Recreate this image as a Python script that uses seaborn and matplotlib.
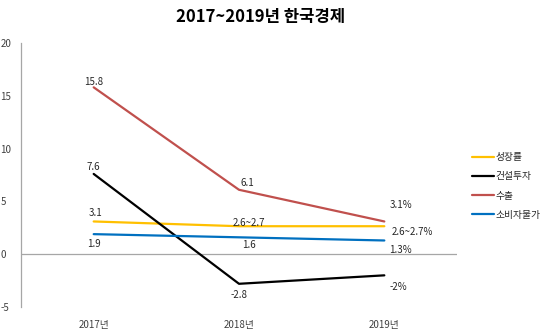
import matplotlib
matplotlib.use("Agg")
import matplotlib.pyplot as plt
import seaborn as sns
import pandas as pd

years = ["2017년", "2018년", "2019년"]
series_names = ["성장률", "건설투자", "수출", "소비자물가"]
growth = [3.1, 2.65, 2.65]
construction = [7.6, -2.8, -2.0]
exports = [15.8, 6.1, 3.1]
prices = [1.9, 1.6, 1.3]

growth_labels = ["3.1", "2.6~2.7", "2.6~2.7%"]
construction_labels = ["7.6", "-2.8", "-2%"]
exports_labels = ["15.8", "6.1", "3.1%"]
prices_labels = ["1.9", "1.6", "1.3%"]

colors = ["#FFC000", "#000000", "#C0504D", "#0070C0"]
y_ticks = [-5, 0, 5, 10, 15, 20]

sns.set_style("white")
plt.rcParams["font.family"] = ["Noto Sans CJK KR", "DejaVu Sans"]
plt.rcParams["axes.unicode_minus"] = False

values = [growth, construction, exports, prices]
labels = [growth_labels, construction_labels, exports_labels, prices_labels]
df = pd.DataFrame({
    "연도": years * len(series_names),
    "x": list(range(len(years))) * len(series_names),
    "계열": [n for n in series_names for _ in years],
    "값": [v for vs in values for v in vs],
})

fig = plt.figure(figsize=(5.49, 3.33), dpi=100)
ax = fig.add_axes([0.0383, 0.078, 0.7941, 0.793])

sns.lineplot(data=df, x="x", y="값", hue="계열", hue_order=series_names,
             palette=colors, linewidth=1.6, ax=ax, legend=True)

ax.set_xlim(-0.5, 2.5)
ax.set_ylim(-5, 20)
ax.set_xticks(range(len(years)))
ax.set_xticklabels(years)
ax.set_yticks(y_ticks)
ax.set_xlabel("")
ax.set_ylabel("")
ax.tick_params(axis="both", length=0, labelsize=7, colors="#404040")
ax.tick_params(axis="x", pad=9)
ax.tick_params(axis="y", pad=4)
for lab in ax.get_yticklabels():
    lab.set_horizontalalignment("left")
    lab.set_x(-0.035)
for side in ["top", "right", "bottom"]:
    ax.spines[side].set_visible(False)
ax.spines["left"].set_color("#A6A6A6")
ax.spines["left"].set_linewidth(0.9)
ax.axhline(0, color="#A6A6A6", linewidth=0.9, zorder=0)

# data label offsets in pixels (dx, dy) per series and year
offsets = [
    [(2, 8), (10, 3), (7, -6)],
    [(0, 7), (0, -11), (5, -12)],
    [(0, 5), (8, 7), (5, 16)],
    [(0, -10), (10, -8), (5, -10)],
]
for vs, ls, offs in zip(values, labels, offsets):
    for i, (v, t, (dx, dy)) in enumerate(zip(vs, ls, offs)):
        ha = "left" if i == 2 else "center"
        ax.annotate(t, (i, v), xytext=(dx, dy), textcoords="offset pixels",
                    ha=ha, va="center", fontsize=7, color="#262626")

fig.suptitle("2017~2019년 한국경제", x=0.474, y=0.975, fontsize=12,
             fontweight="bold", color="#000000")

handles, hlabels = ax.get_legend_handles_labels()
ax.legend(handles, hlabels, loc="upper left", bbox_to_anchor=(0.853, 0.555),
          bbox_transform=fig.transFigure, frameon=False, fontsize=7,
          handlelength=2.2, handletextpad=0.2, labelspacing=0.95,
          borderaxespad=0)

fig.savefig("out.png", dpi=100)
